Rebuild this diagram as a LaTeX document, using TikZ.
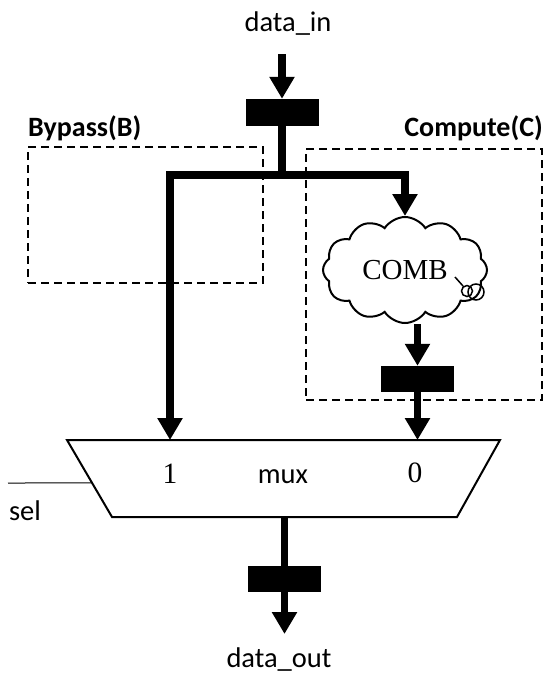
\documentclass[tikz,border=0pt]{standalone}
\usepackage{fontspec}
\setmainfont{Carlito}
\newfontfamily\timesfont{Liberation Serif}
\usetikzlibrary{arrows.meta,shapes.geometric,shapes.symbols,calc}

\begin{document}
\begin{tikzpicture}[x=1pt,y=-1pt,
  bus/.style={line width=7.5pt, line join=miter},
  busarrow/.style={bus, -{Triangle[length=22pt,width=24pt]}},
  reg/.style={fill=black, draw=none, minimum width=73pt, minimum height=27pt, inner sep=0pt},
  region/.style={draw, line width=2pt, dash pattern=on 8pt off 5pt, inner sep=0pt},
  sanslabel/.style={font=\fontsize{28.5}{33}\selectfont, inner sep=0pt},
  boldlabel/.style={font=\fontsize{28}{33}\selectfont\bfseries, inner sep=0pt},
  seriflabel/.style={font=\fontsize{29.5}{34}\selectfont\timesfont, inner sep=0pt},
]
\useasboundingbox (0,0) rectangle (546,675);

% region boxes and their titles
\node[region, minimum width=235pt, minimum height=136pt] (bypass) at (145.5,215) {};
\node[region, minimum width=236pt, minimum height=251pt] (compute) at (424,274.5) {};
\node[boldlabel, anchor=west] (bypasslbl) at (28,128) {Bypass(B)};
\node[boldlabel, anchor=east] (computelbl) at (543,128) {Compute(C)};

% pipeline registers
\node[reg] (reg1) at (282,112.5) {};
\node[reg, minimum height=26pt] (reg2) at (417.5,379) {};
\node[reg, minimum height=26pt] (reg3) at (284.5,579) {};

% combinational logic cloud
\node[cloud, draw, line width=2pt, fill=white, cloud puffs=12, cloud puff arc=115,
      aspect=1.5, minimum width=164pt, minimum height=106pt, inner sep=0pt] (comb) at (405,270) {};
\node[font=\fontsize{29}{34}\selectfont\timesfont, inner sep=0pt] (combtxt) at (405,270) {COMB};
\draw[line width=1.5pt] (455,277) -- (463,286);
\draw[line width=1.5pt] (467,291) circle (5.5pt);
\draw[line width=1.5pt] (476,292) circle (8pt);

% multiplexer outline
\coordinate (mtl) at (67,440);
\coordinate (mtr) at (500,440);
\coordinate (mbr) at (457,517);
\coordinate (mbl) at (112,517);
\draw[line width=2pt, line join=miter] (mtl) -- (mtr) -- (mbr) -- (mbl) -- cycle;
\node[sanslabel] (mux) at (283,477) {mux};
\node[seriflabel] (in1txt) at (170,474) {1};
\node[seriflabel] (in0txt) at (415,473) {0};

% ports
\node[sanslabel] (din) at (288,24) {data\_in};
\node[sanslabel] (dout) at (279,660) {data\_out};
\node[sanslabel] (sel) at (25,511) {sel};
\coordinate (intail) at (282,54);
\coordinate (jn) at (282,175);
\coordinate (in1) at (170,440);
\coordinate (in0) at (417.5,440);
\coordinate (muxout) at (284.5,517);
\coordinate (outtip) at (284.5,634);
\coordinate (selstart) at (8,483);
\coordinate (selend) at ($(mtl)!0.558!(mbl)$);

% data paths
\draw[busarrow] (intail) -- (reg1.north);
\draw[bus] (reg1.south) -- (jn);
\draw[busarrow] (jn) -| (in1);
\draw[busarrow] (jn) -| (comb.north);
\draw[busarrow] (comb.south -| reg2.north) -- (reg2.north);
\draw[busarrow] (reg2.south) -- (in0);
\draw[bus] (muxout) -- (reg3.north);
\draw[busarrow] (reg3.south) -- (outtip);

% select line
\draw[line width=1pt] (selstart) -- (selend);
\end{tikzpicture}
\end{document}
